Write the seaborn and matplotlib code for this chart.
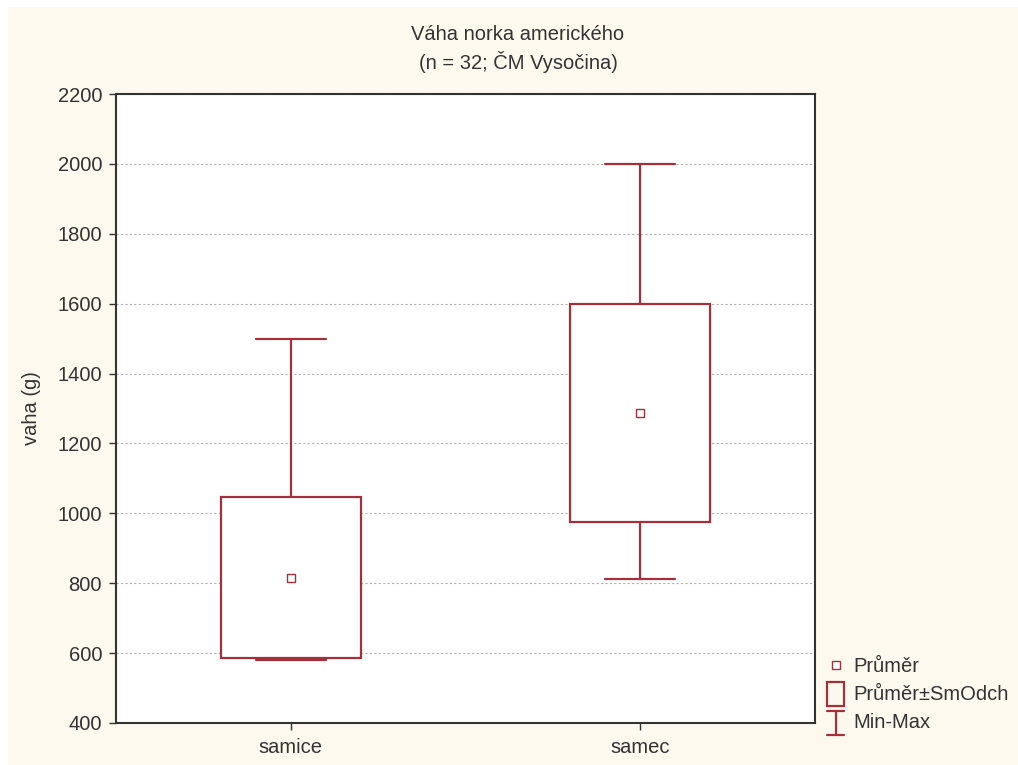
import matplotlib
matplotlib.use("Agg")
import matplotlib.pyplot as plt
import seaborn as sns
import pandas as pd
from matplotlib.lines import Line2D
from matplotlib.patches import Rectangle
from matplotlib.legend_handler import HandlerBase

# Weight of American mink by sex: mean, standard deviation, min and max
categories = ["samice", "samec"]
means = [816, 1288]
sds = [231, 312]
mins = [580, 812]
maxs = [1500, 2000]

title_lines = ["Váha norka amerického", "(n = 32; ČM Vysočina)"]
y_label = "vaha (g)"
y_ticks = [400, 600, 800, 1000, 1200, 1400, 1600, 1800, 2000, 2200]
legend_labels = ["Průměr", "Průměr±SmOdch", "Min-Max"]

RED = "#A3313C"
BEIGE = "#FDF9EF"
INK = "#333333"
FS = 14.5

sns.set_theme(style="white")
plt.rcParams["font.family"] = ["Liberation Sans", "DejaVu Sans"]

df = pd.DataFrame({"kategorie": categories, "prumer": means, "sd": sds,
                   "min": mins, "max": maxs})
df["pos"] = range(len(df))

fig = plt.figure(figsize=(10.18, 7.65), dpi=100)
fig.patch.set_facecolor("white")
fig.add_artist(Rectangle((8 / 1018, 0), 1.0, 758 / 765,
                         transform=fig.transFigure, facecolor=BEIGE,
                         edgecolor="none", zorder=-10))

ax = fig.add_axes([116 / 1018, 42 / 765, 699 / 1018, 629 / 765])
ax.set_facecolor("white")

stats = []
for _, r in df.iterrows():
    stats.append(dict(label=r["kategorie"], med=r["prumer"],
                      q1=r["prumer"] - r["sd"], q3=r["prumer"] + r["sd"],
                      whislo=r["min"], whishi=r["max"]))

ax.bxp(stats, positions=df["pos"].tolist(), widths=0.4, capwidths=0.2,
       showfliers=False, patch_artist=True,
       boxprops=dict(facecolor="white", edgecolor=RED, linewidth=1.6),
       whiskerprops=dict(color=RED, linewidth=1.6),
       capprops=dict(color=RED, linewidth=1.6),
       medianprops=dict(visible=False), zorder=3)

sns.scatterplot(data=df, x="pos", y="prumer", marker="s", s=30,
                facecolor="white", edgecolor=RED, linewidth=1.0,
                ax=ax, zorder=4, legend=False)

ax.set_xlim(-0.5, 1.5)
ax.set_ylim(400, 2200)
ax.set_yticks(y_ticks)
ax.set_xticks(df["pos"].tolist())
ax.set_xticklabels(categories)
ax.set_xlabel("")
ax.set_ylabel(y_label, fontsize=FS, color=INK, labelpad=12)
ax.yaxis.grid(True, linestyle=(0, (2, 2)), color="#b0b0b0", linewidth=0.8, zorder=0)
ax.set_axisbelow(True)
ax.tick_params(axis="both", direction="out", length=5, width=1, color=INK,
               labelsize=FS, labelcolor=INK, left=True, bottom=True)
ax.tick_params(axis="x", pad=6)
ax.tick_params(axis="y", pad=5)
for sp in ax.spines.values():
    sp.set_color(INK)
    sp.set_linewidth(1.5)

fig.text(518 / 1018, 1 - 35 / 765, title_lines[0], ha="center", va="center",
         fontsize=FS, color=INK)
fig.text(518 / 1018, 1 - 62 / 765, title_lines[1], ha="center", va="center",
         fontsize=FS, color=INK)


class IBeamHandler(HandlerBase):
    def create_artists(self, legend, orig_handle, xdescent, ydescent,
                       width, height, fontsize, trans):
        cx = width / 2 - xdescent
        top = height * 1.2
        bot = -height * 0.5
        half = width * 0.52
        lines = [
            Line2D([cx, cx], [bot, top]),
            Line2D([cx - half, cx + half], [top, top]),
            Line2D([cx - half, cx + half], [bot, bot]),
        ]
        for ln in lines:
            ln.set_color(RED)
            ln.set_linewidth(1.6)
            ln.set_transform(trans)
        return lines


class BoxHandler(HandlerBase):
    def create_artists(self, legend, orig_handle, xdescent, ydescent,
                       width, height, fontsize, trans):
        rect = Rectangle((-xdescent, -height * 0.4), width,
                         height * 1.7, facecolor="none", edgecolor=RED,
                         linewidth=1.6, transform=trans)
        return [rect]


mean_handle = Line2D([], [], marker="s", linestyle="none", markersize=5.5,
                     markerfacecolor="white", markeredgecolor=RED, markeredgewidth=1.0)
box_handle = Rectangle((0, 0), 1, 1)
ibeam_handle = Line2D([], [])

fig.legend([mean_handle, box_handle, ibeam_handle], legend_labels,
           handler_map={Rectangle: BoxHandler(), ibeam_handle: IBeamHandler()},
           loc="upper left", bbox_to_anchor=(827 / 1018, 1 - 657 / 765),
           borderaxespad=0, borderpad=0,
           frameon=False, fontsize=FS, handlelength=0.85, handletextpad=0.45,
           labelspacing=0.45, labelcolor=INK)

fig.savefig("out.png", dpi=100, facecolor=fig.get_facecolor())
